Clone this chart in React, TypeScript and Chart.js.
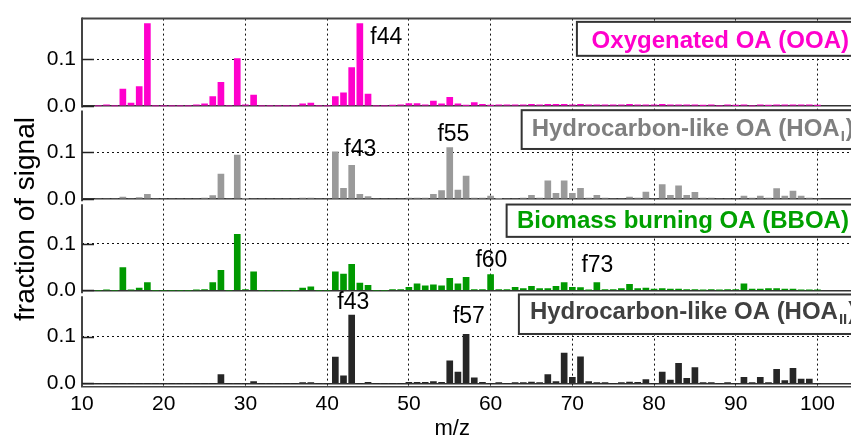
import React, { useEffect, useRef } from "react";
import { Chart, registerables } from "chart.js";

Chart.register(...registerables);

// ---------- data ----------
const MZ = [
  12, 13, 14, 15, 16, 17, 18, 19, 20, 21,
  22, 23, 24, 25, 26, 27, 28, 29, 30, 31,
  32, 33, 34, 35, 36, 37, 38, 39, 40, 41,
  42, 43, 44, 45, 46, 47, 48, 49, 50, 51,
  52, 53, 54, 55, 56, 57, 58, 59, 60, 61,
  62, 63, 64, 65, 66, 67, 68, 69, 70, 71,
  72, 73, 74, 75, 76, 77, 78, 79, 80, 81,
  82, 83, 84, 85, 86, 87, 88, 89, 90, 91,
  92, 93, 94, 95, 96, 97, 98, 99, 100,
];

const OOA = [
  0, 0.002, 0, 0.036, 0.006, 0.041, 0.176, 0, 0, 0,
  0, 0, 0.002, 0.004, 0.02, 0.05, 0, 0.101, 0.002, 0.023,
  0, 0, 0, 0, 0, 0.004, 0.006, 0, 0, 0.02,
  0.028, 0.082, 0.176, 0.025, 0, 0, 0.001, 0.002, 0.005, 0.005,
  0.002, 0.01, 0.004, 0.018, 0.004, 0.001, 0.007, 0.003, 0.001, 0.002,
  0.002, 0.002, 0.002, 0.003, 0.002, 0.003, 0.003, 0.003, 0.002, 0.003,
  0.002, 0.002, 0.002, 0.002, 0.002, 0.003, 0.002, 0.002, 0.002, 0.003,
  0.002, 0.002, 0.002, 0.002, 0.001, 0.002, 0, 0.002, 0.001, 0.002,
  0, 0.002, 0.001, 0.002, 0.002, 0.002, 0.002, 0.002, 0.001,
];

const HOA_I = [
  0, 0, 0, 0.004, 0, 0.003, 0.01, 0, 0, 0,
  0, 0, 0, 0.002, 0.007, 0.053, 0, 0.094, 0.001, 0,
  0, 0, 0, 0, 0, 0.002, 0.002, 0, 0, 0.101,
  0.023, 0.072, 0.01, 0.005, 0, 0, 0, 0, 0.002, 0.002,
  0.002, 0.01, 0.018, 0.11, 0.019, 0.049, 0.002, 0.002, 0.006, 0.001,
  0, 0, 0.002, 0.008, 0.002, 0.039, 0.012, 0.039, 0.012, 0.023,
  0.002, 0.008, 0.002, 0, 0, 0.004, 0.002, 0.015, 0, 0.031,
  0.008, 0.028, 0.008, 0.014, 0.002, 0.002, 0, 0, 0, 0.006,
  0.002, 0.006, 0.002, 0.022, 0.006, 0.017, 0.006, 0.002, 0,
];

const BBOA = [
  0, 0.001, 0, 0.049, 0.001, 0.005, 0.017, 0, 0, 0,
  0, 0, 0.001, 0.002, 0.017, 0.043, 0, 0.12, 0.002, 0.04,
  0, 0, 0, 0, 0, 0.005, 0.008, 0, 0, 0.04,
  0.035, 0.056, 0.016, 0.011, 0, 0, 0.002, 0.002, 0.007, 0.014,
  0.01, 0.012, 0.01, 0.026, 0.014, 0.028, 0.002, 0.002, 0.034, 0.002,
  0.002, 0.007, 0.004, 0.009, 0.004, 0.004, 0.009, 0.017, 0.007, 0.006,
  0.001, 0.017, 0.002, 0.002, 0.004, 0.013, 0.004, 0.005, 0.003, 0.004,
  0.003, 0.003, 0.002, 0.002, 0.001, 0.002, 0.001, 0.002, 0.002, 0.014,
  0.003, 0.003, 0.004, 0.004, 0.003, 0.003, 0.001, 0.001, 0.001,
];

const HOA_II = [
  0, 0, 0, 0, 0, 0, 0, 0, 0, 0,
  0, 0, 0, 0, 0, 0.019, 0, 0, 0, 0.004,
  0, 0, 0, 0, 0, 0.001, 0.001, 0, 0, 0.056,
  0.016, 0.146, 0, 0.002, 0, 0, 0, 0, 0.002, 0.002,
  0.002, 0.004, 0.002, 0.048, 0.024, 0.105, 0.012, 0.002, 0, 0.001,
  0, 0.001, 0.001, 0.003, 0.001, 0.019, 0.004, 0.065, 0.013, 0.057,
  0.004, 0.001, 0.001, 0, 0.001, 0.003, 0.002, 0.008, 0, 0.024,
  0.007, 0.043, 0.011, 0.034, 0.001, 0.001, 0, 0.001, 0, 0.013,
  0.001, 0.013, 0.001, 0.03, 0.006, 0.032, 0.009, 0.009, 0,
];

const X_TICKS = [10, 20, 30, 40, 50, 60, 70, 80, 90, 100];
const Y_TICKS = [0, 0.1];

const PANEL_TITLES = [
  ["Oxygenated OA (OOA)", "", ""],
  ["Hydrocarbon-like OA (HOA", "I", ")"],
  ["Biomass burning OA (BBOA)", "", ""],
  ["Hydrocarbon-like OA (HOA", "II", ")"],
];

const PEAK_LABELS = [
  { panel: 0, text: "f44", mz: 47.24, value: 0.133 },
  { panel: 1, text: "f43", mz: 44.06, value: 0.091 },
  { panel: 1, text: "f55", mz: 55.45, value: 0.123 },
  { panel: 2, text: "f60", mz: 60.1, value: 0.05 },
  { panel: 2, text: "f73", mz: 73.07, value: 0.039 },
  { panel: 3, text: "f43", mz: 43.2, value: 0.159 },
  { panel: 3, text: "f57", mz: 57.34, value: 0.129 },
];

// ---------- styling / layout ----------
const FONT = "'Liberation Sans', Arial, Helvetica, sans-serif";

const PANELS = [
  {
    axis: "y1", values: OOA, bar: "#ff00cc", text: "#ff00cc",
    min: -0.0068, max: 0.1867, stackWeight: 91.5,
    box: { x: 70.56, top: 0.1797, bottom: 0.107 }, textPos: { x: 72.36, y: 0.1247 },
  },
  {
    axis: "y2", values: HOA_I, bar: "#9a9a9a", text: "#7f7f7f",
    min: -0.0082, max: 0.1926, stackWeight: 95,
    box: { x: 63.8, top: 0.19, bottom: 0.107 }, textPos: { x: 65.02, y: 0.1338 },
  },
  {
    axis: "y3", values: BBOA, bar: "#009900", text: "#00a000",
    min: -0.0089, max: 0.1877, stackWeight: 93,
    box: { x: 61.96, top: 0.184, bottom: 0.1148 }, textPos: { x: 63.22, y: 0.1345 },
  },
  {
    axis: "y4", values: HOA_II, bar: "#262626", text: "#404040",
    min: -0.0078, max: 0.1899, stackWeight: 93.5,
    box: { x: 63.46, top: 0.1903, bottom: 0.1057 }, textPos: { x: 64.81, y: 0.1374 },
  },
];

const decorPlugin = {
  id: "decor",
  afterDatasetsDraw(chart: any) {
    const { ctx, chartArea, scales } = chart;
    const xs = scales.x;
    const L = chartArea.left;
    const R = chartArea.right;
    ctx.save();

    const line = (x1: number, y1: number, x2: number, y2: number) => {
      ctx.beginPath();
      ctx.moveTo(x1, y1);
      ctx.lineTo(x2, y2);
      ctx.stroke();
    };

    // top frame
    ctx.strokeStyle = "#444";
    ctx.lineWidth = 2;
    line(L, chartArea.top, R, chartArea.top);

    PANELS.forEach((p, i) => {
      const ys = scales[p.axis];
      // left axis segment
      ctx.strokeStyle = "#444";
      ctx.lineWidth = 2;
      const t = i === 0 ? chartArea.top - 1 : ys.top + 1.5;
      const b = i === PANELS.length - 1 ? ys.bottom : ys.bottom - 1.5;
      line(L, t, L, b);
      // inner tick marks
      ctx.lineWidth = 1.5;
      ctx.strokeStyle = "#222";
      Y_TICKS.forEach((v) => {
        const py = Math.round(ys.getPixelForValue(v)) + 0.5;
        line(L, py, L + 12, py);
      });

      // label box
      const bx = xs.getPixelForValue(p.box.x);
      const bt = ys.getPixelForValue(p.box.top);
      const bb = ys.getPixelForValue(p.box.bottom);
      ctx.fillStyle = "#fff";
      ctx.fillRect(bx, bt, R + 20 - bx, bb - bt);
      ctx.strokeStyle = "#333";
      ctx.lineWidth = 2;
      ctx.strokeRect(bx, bt, R + 20 - bx, bb - bt);

      // label text
      const [main, sub, tail] = PANEL_TITLES[i];
      let tx = xs.getPixelForValue(p.textPos.x);
      const ty = ys.getPixelForValue(p.textPos.y);
      ctx.fillStyle = p.text;
      ctx.textAlign = "left";
      ctx.textBaseline = "alphabetic";
      ctx.font = `bold 24px ${FONT}`;
      ctx.fillText(main, tx, ty);
      tx += ctx.measureText(main).width;
      if (sub) {
        ctx.font = `bold 15px ${FONT}`;
        ctx.fillText(sub, tx + 1, ty + 5);
        tx += ctx.measureText(sub).width + 2;
        ctx.font = `bold 24px ${FONT}`;
        ctx.fillText(tail, tx, ty);
      }
    });

    // peak labels
    ctx.fillStyle = "#000";
    ctx.font = `23px ${FONT}`;
    ctx.textAlign = "center";
    ctx.textBaseline = "alphabetic";
    PEAK_LABELS.forEach((a) => {
      const ys = scales[PANELS[a.panel].axis];
      ctx.fillText(a.text, xs.getPixelForValue(a.mz), ys.getPixelForValue(a.value));
    });

    // axis titles
    ctx.font = `22px ${FONT}`;
    ctx.fillText("m/z", xs.getPixelForValue(55.3), 435);

    ctx.save();
    ctx.translate(33.5, 219);
    ctx.rotate(-Math.PI / 2);
    ctx.font = `28px ${FONT}`;
    ctx.textAlign = "center";
    ctx.fillText("fraction of signal", 0, 0);
    ctx.restore();

    ctx.restore();
  },
};

export default function App() {
  const ref = useRef<HTMLCanvasElement>(null);

  useEffect(() => {
    if (!ref.current) return;

    const scales: any = {
      x: {
        type: "linear",
        position: "bottom",
        min: 10,
        max: 104.1,
        bounds: "data",
        offset: false,
        afterBuildTicks: (s: any) => {
          s.ticks = X_TICKS.map((v) => ({ value: v }));
        },
        afterFit: (s: any) => {
          s.height = 52;
        },
        ticks: {
          font: { size: 21, family: FONT },
          color: "#000",
          padding: 5,
          maxRotation: 0,
          autoSkip: false,
        },
        grid: {
          offset: false,
          color: (c: any) => (c.tick && c.tick.value === 10 ? "rgba(0,0,0,0)" : "#111"),
          lineWidth: 1,
          drawTicks: false,
        },
        border: { display: true, color: "#444", width: 1.5, dash: [2, 3] },
      },
    };

    PANELS.forEach((p, i) => {
      scales[p.axis] = {
        type: "linear",
        position: "left",
        stack: "panels",
        stackWeight: p.stackWeight,
        weight: PANELS.length - i,
        min: p.min,
        max: p.max,
        bounds: "data",
        afterBuildTicks: (s: any) => {
          s.ticks = Y_TICKS.map((v) => ({ value: v }));
        },
        afterFit: (s: any) => {
          s.width = 82;
        },
        ticks: {
          font: { size: 21, family: FONT },
          color: "#000",
          padding: 6,
          callback: (v: any) => Number(v).toFixed(1),
        },
        grid: {
          color: (c: any) => (c.tick && c.tick.value === 0 ? "#333" : "#111"),
          lineWidth: (c: any) => (c.tick && c.tick.value === 0 ? 1.5 : 1),
          drawTicks: false,
        },
        border: {
          display: false,
          dash: (c: any) => (c.tick && c.tick.value === 0 ? [] : [2, 3]),
        },
      };
    });

    const chart = new Chart(ref.current, {
      type: "bar",
      data: {
        datasets: PANELS.map((p, i) => ({
          label: PANEL_TITLES[i].join(""),
          data: MZ.map((m, k) => ({ x: m, y: p.values[k] })),
          xAxisID: "x",
          yAxisID: p.axis,
          backgroundColor: p.bar,
          borderWidth: 0,
          barThickness: 6,
          grouped: false,
        })) as any,
      },
      options: {
        responsive: false,
        devicePixelRatio: 1,
        animation: false,
        layout: { padding: { top: 14, right: 0, left: 0, bottom: 0 } },
        plugins: {
          legend: { display: false },
          tooltip: { enabled: false },
        },
        scales,
      } as any,
      plugins: [decorPlugin],
    });

    return () => chart.destroy();
  }, []);

  return (
    <div style={{ position: "absolute", left: 0, top: 0, width: 851, height: 439, background: "#fff" }}>
      <canvas ref={ref} width={851} height={439} style={{ display: "block", width: 851, height: 439 }} />
    </div>
  );
}
